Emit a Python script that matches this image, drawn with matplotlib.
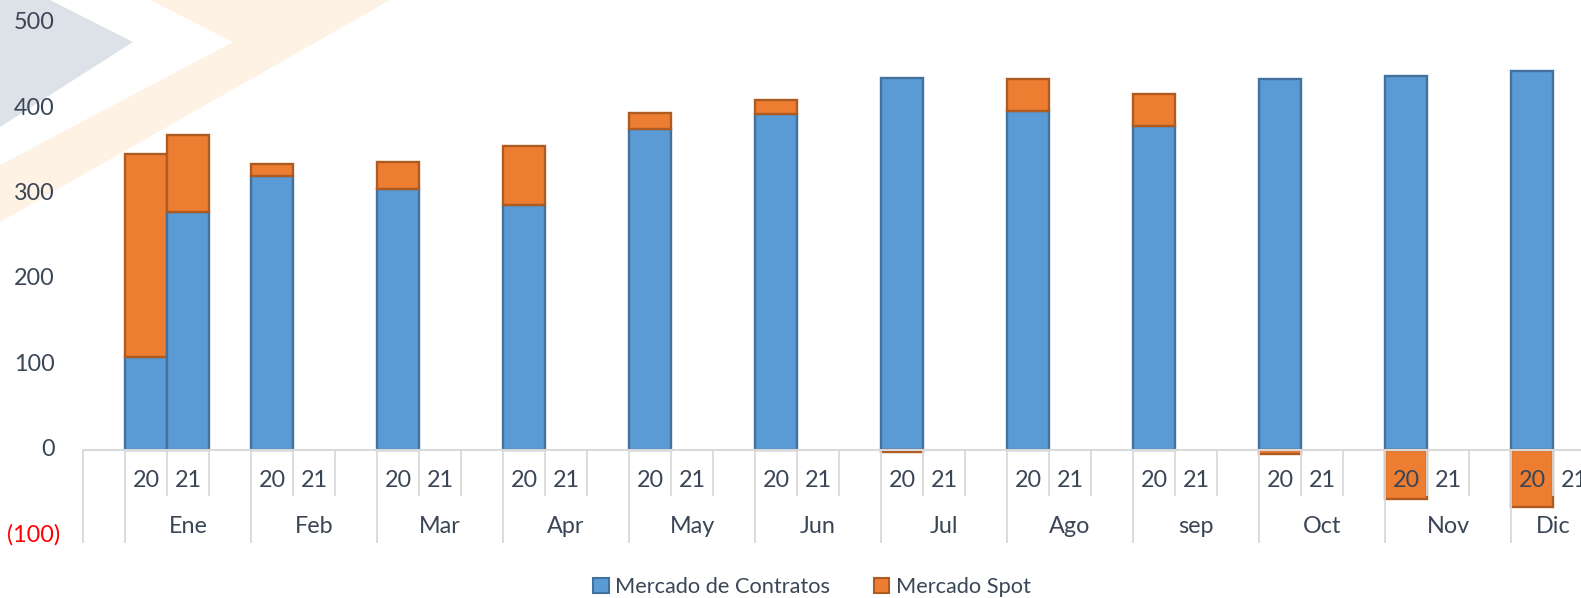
import numpy as np
import matplotlib
matplotlib.use("Agg")
import matplotlib.pyplot as plt
from matplotlib.patches import Polygon, Patch

# ---------------- data ----------------
months = ['Ene', 'Feb', 'Mar', 'Apr', 'May', 'Jun', 'Jul', 'Ago', 'sep', 'Oct', 'Nov', 'Dic']
years = ['20', '21']
contratos_2020 = [108, 321, 305, 287, 376, 393, 435, 397, 379, 434, 437, 443]
spot_2020 = [238, 13, 32, 69, 18, 17, -3, 37, 38, -5, -58, -67]
contratos_2021 = [278, np.nan, np.nan, np.nan, np.nan, np.nan, np.nan, np.nan, np.nan, np.nan, np.nan, np.nan]
spot_2021 = [90, np.nan, np.nan, np.nan, np.nan, np.nan, np.nan, np.nan, np.nan, np.nan, np.nan, np.nan]
y_ticks = [-100, 0, 100, 200, 300, 400, 500]
y_ticklabels = ['(100)', '0', '100', '200', '300', '400', '500']
series_names = ['Mercado de Contratos', 'Mercado Spot']

# ---------------- style ----------------
plt.rcParams['font.family'] = ['Lato', 'DejaVu Sans']
TXT = '#3a4656'
BLUE, BLUE_E = '#5b9bd5', '#41719c'
ORANGE, ORANGE_E = '#ed7d31', '#ae5a21'
GRID = '#d9d9d9'
FS = 16.8

W, H = 1581, 598
fig = plt.figure(figsize=(W / 100, H / 100), dpi=100)

# watermark (figure pixel coords, y from top)
def px(pts):
    return [(x / W, (H - y) / H) for x, y in pts]

fig.add_artist(Polygon(px([(0, 0), (50, 0), (133, 42), (0, 127)]), closed=True,
                       facecolor='#dde1e8', edgecolor='none', transform=fig.transFigure, zorder=0))
fig.add_artist(Polygon(px([(150, 0), (233, 42), (0, 165), (0, 222), (390, 0)]), closed=True,
                       facecolor='#fdf2e4', edgecolor='none', transform=fig.transFigure, zorder=0))

# axes: x in slot units (42 px each) starting at px 83; y: 500 at px 22.7, -100 at px 534.9
x0_px, slot_px = 83, 42
y_top_px, y_bot_px = 22.7, 534.9
ax_w_px = W - x0_px
ax = fig.add_axes([x0_px / W, (H - y_bot_px) / H, ax_w_px / W, (y_bot_px - y_top_px) / H])
ax.patch.set_alpha(0)
ax.set_xlim(0, ax_w_px / slot_px)
ax.set_ylim(-100, 500)
for s in ax.spines.values():
    s.set_visible(False)
ax.set_xticks([])
ax.set_yticks([])

# y labels drawn as text (right edge at px 55, red "(100)" at px 60)
ytr = ax.get_yaxis_transform()
for v, lab in zip(y_ticks, y_ticklabels):
    neg = v < 0
    right_px = 60 if neg else 55
    ax.text((right_px - x0_px) / ax_w_px, v, lab, transform=ytr, ha='right', va='center',
            fontsize=FS, color='red' if neg else TXT, clip_on=False)

# slot layout: slot 0 blank, each month has 3 slots (20, 21, blank), Dic has 2
n_months = len(months)
month_start = [1 + 3 * m for m in range(n_months)]
month_nslots = [3] * (n_months - 1) + [2]
total_slots = month_start[-1] + month_nslots[-1]

c20 = np.array(contratos_2020, float)
s20 = np.array(spot_2020, float)
c21 = np.array(contratos_2021, float)
s21 = np.array(spot_2021, float)

x20 = np.array(month_start) + 0.5
x21 = np.array(month_start) + 1.5

bar_kw = dict(width=1.0, linewidth=1.7, zorder=2)
for xs, c, s in [(x20, c20, s20), (x21, c21, s21)]:
    ax.bar(xs, c, color=BLUE, edgecolor=BLUE_E, **bar_kw)
    bottom = np.where(s >= 0, c, 0)
    ax.bar(xs, s, bottom=bottom, color=ORANGE, edgecolor=ORANGE_E, **bar_kw)

# category axis (drawn manually, over bars)
ax.plot([0, total_slots], [0, 0], color=GRID, lw=1.5, zorder=3, clip_on=False)
long_b = set([0] + month_start + [total_slots])
for b in range(total_slots + 1):
    ylow = -108 if b in long_b else -53
    ax.plot([b, b], [0, ylow], color=GRID, lw=1.3, zorder=3, clip_on=False)

for m in range(n_months):
    st = month_start[m]
    for k, yr in enumerate(years):
        ax.text(st + k + 0.5, -36, yr, ha='center', va='center', fontsize=FS,
                color=TXT, zorder=4, clip_on=False)
    ax.text(st + month_nslots[m] / 2, -90.5, months[m], ha='center', va='center',
            fontsize=FS, color=TXT, zorder=4, clip_on=False)

# legend
handles = [Patch(facecolor=BLUE, edgecolor=BLUE_E, lw=1.5),
           Patch(facecolor=ORANGE, edgecolor=ORANGE_E, lw=1.5)]
fig.legend(handles, series_names, loc='center', bbox_to_anchor=(812 / W, 11 / H),
           ncol=2, frameon=False, fontsize=15.7, labelcolor=TXT,
           handlelength=0.7, handleheight=0.7, handletextpad=0.3, columnspacing=2.0)

fig.savefig('out.png', dpi=100)
